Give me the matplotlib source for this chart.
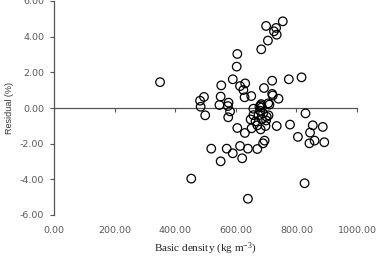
import matplotlib
matplotlib.use("Agg")
import matplotlib.pyplot as plt

density = [350, 453, 482, 484, 495, 499, 519, 546, 550, 552,
           550, 570, 576, 574, 581, 575, 590, 590, 603, 605,
           605, 614, 614, 621, 625, 629, 631, 630, 640, 640,
           651, 652, 649, 658, 658, 671, 671, 675, 678, 682,
           686, 684, 680, 682, 684, 686, 690, 695, 693, 698,
           700, 702, 706, 708, 711, 720, 720, 722, 726, 733,
           735, 735, 741, 755, 775, 779, 805, 817, 827, 830,
           843, 845, 854, 860, 887, 892, 665, 690, 700, 707]
residual = [1.45, -3.96, 0.41, 0.07, 0.62, -0.41, -2.28, 0.17, 0.64, 1.27,
            -2.99, -2.28, 0.30, 0.11, -0.19, -0.52, 1.61, -2.54, 2.32, 3.03,
            -1.12, 1.23, -2.13, -2.82, 1.01, 0.60, 1.38, -1.40, -2.28, -5.09,
            0.67, -1.14, -0.64, -0.04, -0.40, -0.97, -2.30, -0.41, 0.07, 0.15,
            0.04, 0.22, -0.15, -1.20, 3.29, -0.64, -1.98, -1.83, 1.12, -1.01,
            4.60, -0.49, 3.78, -0.41, 0.19, 1.53, 0.79, 0.70, 4.30, 4.49,
            4.11, -1.01, 0.52, 4.86, 1.61, -0.93, -1.62, 1.72, -4.22, -0.30,
            -1.98, -1.38, -0.97, -1.83, -1.06, -1.92, -0.75, -0.30, -0.70, 0.26]

x_ticks = [0, 200, 400, 600, 800, 1000]
y_ticks = [-6, -4, -2, 0, 2, 4, 6]

plt.rcParams["mathtext.fontset"] = "custom"
plt.rcParams["mathtext.rm"] = "Liberation Serif"
plt.rcParams["mathtext.it"] = "Liberation Serif:italic"

fig = plt.figure(figsize=(3.76, 2.60), dpi=100)
ax = fig.add_axes([54 / 376, 1 - 215 / 260, 303 / 376, 214 / 260])

axis_color = "#555555"
label_color = "#595959"

ax.scatter(density, residual, s=38, facecolors="none", edgecolors="black",
           linewidths=0.9, zorder=3, clip_on=False)

ax.set_xlim(0, 1000)
ax.set_ylim(-6, 6)

for side in ["top", "right"]:
    ax.spines[side].set_visible(False)
ax.spines["left"].set_color(axis_color)
ax.spines["left"].set_linewidth(0.9)
ax.spines["bottom"].set_position(("data", 0))
ax.spines["bottom"].set_color(axis_color)
ax.spines["bottom"].set_linewidth(0.9)

ax.set_xticks(x_ticks)
ax.tick_params(axis="x", direction="out", length=3, width=0.8,
               color=axis_color, labelbottom=False)
ax.set_yticks(y_ticks)
ax.set_yticklabels([f"{v:.2f}" for v in y_ticks])
ax.tick_params(axis="y", direction="out", length=3, width=0.8,
               color=axis_color, labelsize=6.8, labelcolor=label_color, pad=4)

sec = ax.secondary_xaxis("bottom")
sec.set_xticks(x_ticks)
sec.set_xticklabels([f"{v:.2f}" for v in x_ticks])
sec.spines["bottom"].set_visible(False)
sec.tick_params(length=0, labelsize=6.8, labelcolor=label_color, pad=8)

for t in ax.get_yticklabels() + sec.get_xticklabels():
    t.set_fontfamily("DejaVu Sans")

ax.set_ylabel("Residual (%)", fontsize=6.5, family="Liberation Sans",
              color="#333333", labelpad=4)
sec.set_xlabel("Basic density (kg m$^{-3}$)", fontsize=8,
               family="Liberation Serif", color="#222222", labelpad=4)

fig.savefig("out.png", dpi=100)
